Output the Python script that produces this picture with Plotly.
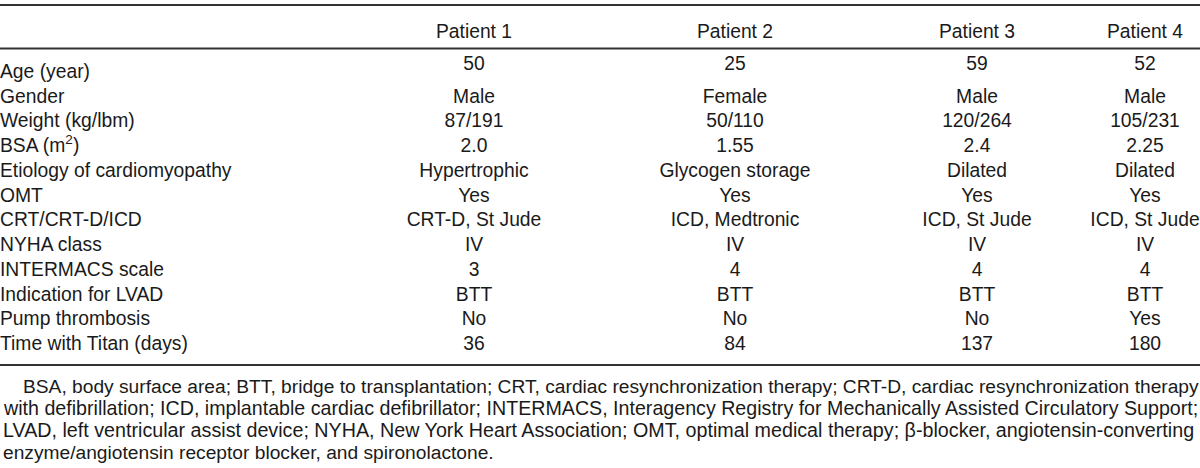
import plotly.graph_objects as go

# table content
row_labels = ["Age (year)", "Gender", "Weight (kg/lbm)", "BSA (m<sup>2</sup>)",
              "Etiology of cardiomyopathy", "OMT", "CRT/CRT-D/ICD", "NYHA class",
              "INTERMACS scale", "Indication for LVAD", "Pump thrombosis",
              "Time with Titan (days)"]
patients = ["Patient 1", "Patient 2", "Patient 3", "Patient 4"]
patient_1 = ["50", "Male", "87/191", "2.0", "Hypertrophic", "Yes", "CRT-D, St Jude",
             "IV", "3", "BTT", "No", "36"]
patient_2 = ["25", "Female", "50/110", "1.55", "Glycogen storage", "Yes", "ICD, Medtronic",
             "IV", "4", "BTT", "No", "84"]
patient_3 = ["59", "Male", "120/264", "2.4", "Dilated", "Yes", "ICD, St Jude",
             "IV", "4", "BTT", "No", "137"]
patient_4 = ["52", "Male", "105/231", "2.25", "Dilated", "Yes", "ICD, St Jude",
             "IV", "4", "BTT", "Yes", "180"]
footnote = [
    "BSA, body surface area; BTT, bridge to transplantation; CRT, cardiac resynchronization therapy; CRT-D, cardiac resynchronization therapy",
    "with defibrillation; ICD, implantable cardiac defibrillator; INTERMACS, Interagency Registry for Mechanically Assisted Circulatory Support;",
    "LVAD, left ventricular assist device; NYHA, New York Heart Association; OMT, optimal medical therapy; β-blocker, angiotensin-converting",
    "enzyme/angiotensin receptor blocker, and spironolactone.",
]

W, H = 1200, 468
FONT = "Liberation Sans, Arial, Helvetica, sans-serif"
INK = "#1a1a1a"
BODY = 19.3
col_x = [474, 735, 977, 1145]
row0, row_step = 73, 24.75
row_y = [row0 + i * row_step for i in range(len(row_labels))]
# the footnote is justified in the original; nudge sizes so lines fill the width
note_size = [19.2, 19.65, 19.72, 19.2]

fig = go.Figure()

# row labels
fig.add_trace(go.Scatter(x=[0] * len(row_labels), y=row_y, text=row_labels,
                         mode="text", textposition="middle right",
                         textfont=dict(family=FONT, size=BODY, color=INK),
                         hoverinfo="skip", showlegend=False))

# patient columns (first row values sit a bit higher in the original)
for name, vals, cx in zip(patients, [patient_1, patient_2, patient_3, patient_4], col_x):
    ys = [row_y[0] - 8] + row_y[1:]
    fig.add_trace(go.Scatter(x=[cx] * len(vals), y=ys, text=vals, mode="text",
                             textposition="middle center",
                             textfont=dict(family=FONT, size=BODY, color=INK),
                             hoverinfo="skip", showlegend=False))
    fig.add_trace(go.Scatter(x=[cx], y=[33], text=[name], mode="text",
                             textposition="middle center",
                             textfont=dict(family=FONT, size=BODY, color=INK),
                             hoverinfo="skip", showlegend=False))

# rules
for yy in [5, 48.5, 365]:
    fig.add_shape(type="line", x0=0, x1=W, y0=yy, y1=yy, xref="x", yref="y",
                  line=dict(color="#333333", width=2))

# footnote
for i, line in enumerate(footnote):
    fig.add_annotation(x=21 if i == 0 else 1, y=386 + i * 22, text=line,
                       xref="x", yref="y", xanchor="left", yanchor="middle",
                       showarrow=False,
                       font=dict(family=FONT, size=note_size[i], color=INK))

fig.update_xaxes(range=[0, W], visible=False, fixedrange=True)
fig.update_yaxes(range=[H, 0], visible=False, fixedrange=True)
fig.update_layout(width=W, height=H, margin=dict(l=0, r=0, t=0, b=0),
                  paper_bgcolor="white", plot_bgcolor="white")

fig.write_html("out.html", config={"displayModeBar": False},
               post_script="document.body.style.margin='0';")
